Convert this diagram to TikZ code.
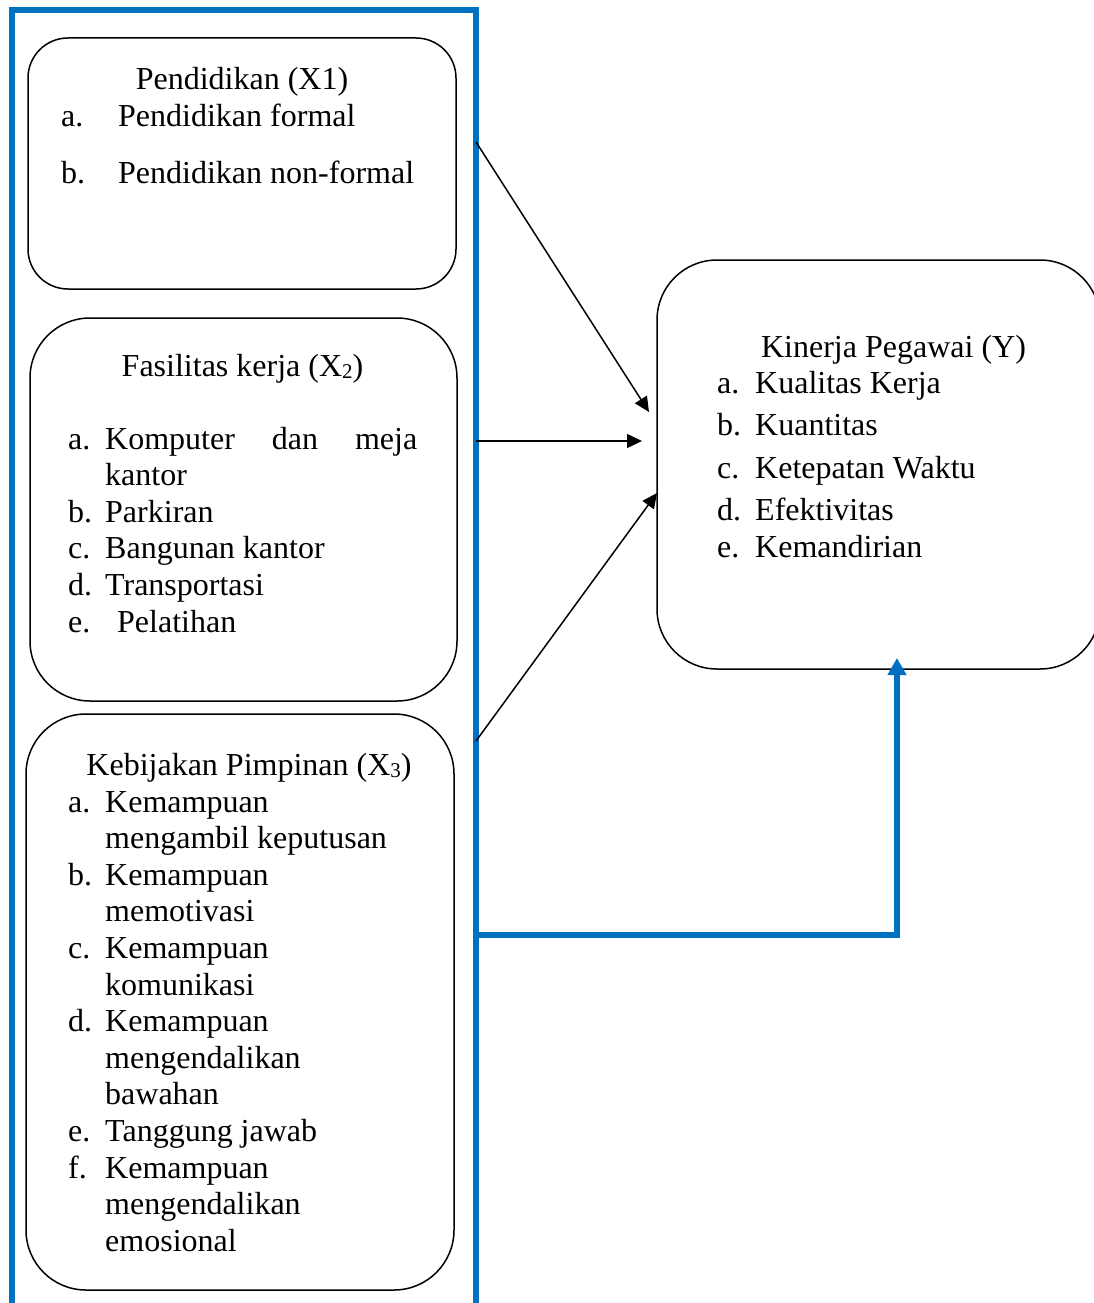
\documentclass[tikz,border=0pt]{standalone}
\usepackage{fontspec}
\setmainfont{Liberation Serif}
\usepackage{tikz}
\usetikzlibrary{arrows.meta}
\usetikzlibrary{positioning}
\definecolor{birukerangka}{RGB}{0,112,192}
\newcommand{\subkecil}[1]{\raisebox{-2pt}{\fontsize{21}{21}\selectfont #1}}

\begin{document}
\begin{tikzpicture}[x=1pt,y=-1pt]
            \tikzset{every node/.style={font=\fontsize{32}{36.6}\selectfont},
                    kotak/.style={draw, line width=1.5pt, rounded corners=60pt, inner sep=0pt, outer sep=0pt},
                    teks/.style={anchor=base west, inner sep=0pt},
                    judul/.style={anchor=base, inner sep=0pt},
                    >={Triangle[length=15pt,width=14pt]},
                    panah/.style={->, line width=1.5pt},
                    biru/.style={draw=birukerangka, line width=5.5pt}}
            \useasboundingbox (0,0) rectangle (1094,1303);
            % kerangka biru variabel X
            \draw[biru] (12,1320) -- (12,10) -- (476,10) -- (476,1320);
            % kotak-kotak
            \node[kotak, rounded corners=40pt, minimum width=428pt, minimum height=251pt] (pend) at (242,163.5) {};
            \node[kotak, minimum width=427pt, minimum height=383pt] (fas) at (243.5,509.5) {};
            \node[kotak, minimum width=428pt, minimum height=576pt] (kebij) at (240,1002) {};
            \node[kotak, minimum width=443pt, minimum height=409pt] (kin) at (878.5,464.5) {};
            % Pendidikan (X1)
            \node[judul] (pend-j) at (242,90) {Pendidikan (X1)};
            \foreach \y/\lab/\isi in {127/a./Pendidikan formal, 183/b./Pendidikan non-formal} {
                \node[teks] at (61,\y) {\lab};
                \node[teks] at (118,\y) {\isi};
            }
            % Fasilitas kerja (X2)
            \node[judul] (fas-j) at (242.5,376) {Fasilitas kerja (X\subkecil{2})};
            \foreach \lab/\isi [count=\i from 0] in {a./{\makebox[312pt][s]{Komputer dan meja}}, /kantor, b./Parkiran, c./Bangunan kantor, d./Transportasi} {
                \node[teks] at (68,449+36.6*\i) {\lab};
                \node[teks] at (105,449+36.6*\i) {\isi};
            }
            \node[teks] at (68,632) {e.};
            \node[teks] at (117,632) {Pelatihan};
            % Kebijakan Pimpinan (X3)
            \node[judul] (kebij-j) at (249,775) {Kebijakan Pimpinan (X\subkecil{3})};
            \foreach \lab/\isi [count=\i from 0] in {a./Kemampuan, /mengambil keputusan, b./Kemampuan, /memotivasi, c./Kemampuan, /komunikasi, d./Kemampuan, /mengendalikan, /bawahan, e./Tanggung jawab, f./Kemampuan, /mengendalikan, /emosional} {
                \node[teks] at (68,812+36.6*\i) {\lab};
                \node[teks] at (105,812+36.6*\i) {\isi};
            }
            % Kinerja Pegawai (Y)
            \node[judul] (kin-j) at (893.5,357) {Kinerja Pegawai (Y)};
            \foreach \y/\lab/\isi in {393/a./Kualitas Kerja, 435/b./Kuantitas, 478/c./Ketepatan Waktu, 520/d./Efektivitas, 557/e./Kemandirian} {
                \node[teks] at (717,\y) {\lab};
                \node[teks] at (755,\y) {\isi};
            }
            % panah pengaruh
            \coordinate (x1) at (476,142);
            \coordinate (x2) at (476,441);
            \coordinate (x3) at (476,741);
            \coordinate (y1) at (649,412);
            \coordinate (y2) at (642,441);
            \coordinate (y3) at (657,493);
            \draw[panah] (x1) -- (y1);
            \draw[panah] (x2) -- (y2);
            \draw[panah] (x3) -- (y3);
            % panah simultan
            \coordinate (cabang) at (476,935);
            \coordinate (kaki) at (897,658);
            \draw[biru, -{Triangle[length=17pt,width=18pt]}] (cabang) -- (cabang -| kaki) -- (kaki);
        \end{tikzpicture}
\end{document}
